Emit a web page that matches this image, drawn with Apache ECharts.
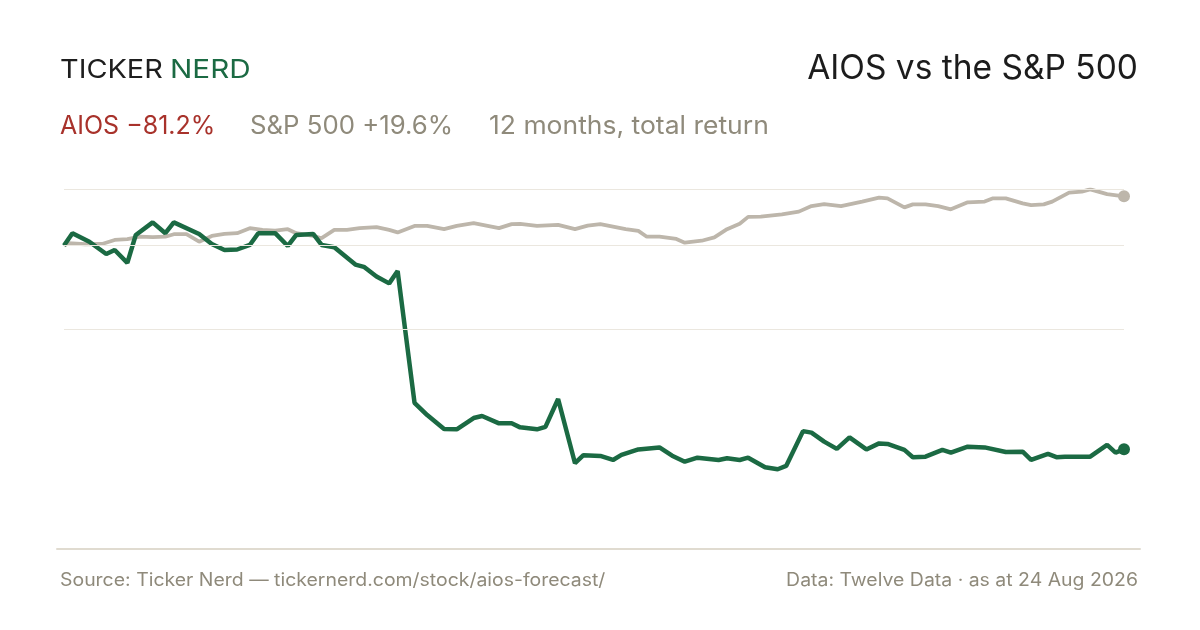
<!DOCTYPE html>
<html><head><meta charset="utf-8">
<script src="https://cdn.jsdelivr.net/npm/echarts@6/dist/echarts.min.js"></script>
<style>html,body{margin:0;padding:0;background:#fff;}#c{width:1200px;height:630px;}</style>
</head><body><div id="c"></div>
<script>
// trading-day index (0..251) and indexed total return (start = 100)
const aiosDays = [0,2,6,10,12,15,17,21,24,26,32,35,38,41,44,46,50,53,55,59,61,64,69,71,74,77,79,83,86,90,93,97,99,103,106,108,112,114,117,121,123,127,130,132,136,141,144,147,150,155,157,160,162,166,169,171,175,177,180,183,186,190,193,195,199,201,204,208,210,214,218,223,227,229,233,235,237,243,247,249,251];
const aiosValues = [100,104.9,101.5,96.6,98.2,93.1,104.2,109.2,104.9,109.2,104.6,100.6,98.2,98.4,100.2,104.9,104.9,99.8,104.2,104.6,100.2,99.3,92.4,91.5,87.6,84.9,89.8,37.3,32.4,26.8,26.7,31.2,32.0,29.1,29.1,27.5,26.7,27.7,38.8,13.2,16.4,16.1,14.5,16.5,18.7,19.5,16.2,13.8,15.4,14.5,15.2,14.5,15.4,11.6,10.8,12.1,26.0,25.4,21.8,18.9,23.5,18.7,21.1,20.9,18.5,15.6,15.8,18.5,17.4,19.8,19.5,17.7,17.8,14.5,16.9,15.6,15.8,15.8,20.5,17.4,18.8];
const spxDays = [0,1,5,9,12,15,18,21,24,26,29,32,35,38,41,44,47,50,53,55,59,61,64,67,70,74,77,79,83,86,90,93,97,100,103,106,108,112,117,121,124,127,130,133,136,138,141,145,147,151,154,157,160,162,165,170,174,177,180,184,189,193,195,199,201,204,207,210,214,218,220,223,227,229,232,234,238,241,243,247,251];
const spxValues = [100,100.9,100.5,100.6,102.2,102.5,103.5,103.3,103.5,104.5,104.5,101.5,103.8,104.6,104.9,106.9,106.2,105.9,106.5,104.9,103.8,102.9,106.2,106.2,106.9,107.3,106.2,105.2,107.8,107.8,106.5,107.8,108.9,107.9,106.9,108.5,108.6,107.8,108.2,106.5,107.9,108.5,107.5,106.5,105.8,103.5,103.5,102.6,101.1,101.9,103.2,106.5,108.7,111.4,111.5,112.4,113.5,115.7,116.5,115.7,117.5,119.1,118.8,115.2,116.4,116.4,115.7,114.4,117.2,117.5,118.8,118.8,116.8,116.1,116.4,117.5,121.1,121.5,122.4,120.5,119.6];
const gridValues = [122.4, 100, 66.7];
const title = 'AIOS vs the S&P 500';
const aiosLabel = 'AIOS \u221281.2%';
const spxLabel = 'S&P 500 +19.6%';
const periodLabel = '12 months, total return';
const sourceText = 'Source: Ticker Nerd \u2014 tickernerd.com/stock/aios-forecast/';
const dataText = 'Data: Twelve Data \u00b7 as at 24 Aug 2026';

const pair = (d, v) => d.map((x, i) => [x, v[i]]);
const aiosData = pair(aiosDays, aiosValues);
const spxData = pair(spxDays, spxValues);
const FONT = 'Inter, "Noto Sans", sans-serif';
const GREEN = '#1b6a43', SPX = '#bdb6ab', RED = '#a8322b', GRAY = '#8f8a7b';

const chart = echarts.init(document.getElementById('c'), null, {renderer: 'canvas'});
chart.setOption({
  animation: false,
  backgroundColor: '#fff',
  grid: [
    {left: 64, right: 76, top: 189.3, bottom: 81},
    {left: 57, right: 60, top: 540, bottom: 81}
  ],
  xAxis: [
    {type: 'value', gridIndex: 0, min: 0, max: 251, show: false},
    {type: 'value', gridIndex: 1, min: 0, max: 1, axisLine: {show: true, lineStyle: {color: '#e0dbd0', width: 2}}, axisTick: {show: false}, axisLabel: {show: false}, splitLine: {show: false}}
  ],
  yAxis: [
    {type: 'value', gridIndex: 0, min: -21, max: 122.4, show: false},
    {type: 'value', gridIndex: 1, min: 0, max: 1, show: false}
  ],
  graphic: [
    {type: 'text', x: 60, y: 57, scaleX: 1.11, style: {text: 'TICKER', font: '400 26px ' + FONT, fill: '#1e1e1e'}},
    {type: 'text', x: 170, y: 57, scaleX: 1.14, style: {text: 'NERD', font: '400 26px ' + FONT, fill: GREEN}},
    {type: 'text', right: 62, top: 52, style: {text: title, font: '400 33.5px ' + FONT, fill: '#1c1c1c'}},
    {type: 'text', x: 60, y: 114, style: {text: aiosLabel, font: '400 25px ' + FONT, fill: RED}},
    {type: 'text', x: 250, y: 114, scaleX: 1.03, style: {text: spxLabel, font: '400 25px ' + FONT, fill: GRAY}},
    {type: 'text', x: 489, y: 114, scaleX: 1.06, style: {text: periodLabel, font: '400 25px ' + FONT, fill: GRAY}},
    {type: 'text', x: 60, y: 572, scaleX: 1.08, style: {text: sourceText, font: '400 18px ' + FONT, fill: GRAY}},
    {type: 'text', x: 1138, y: 572, scaleX: 1.08, style: {text: dataText, align: 'right', font: '400 18px ' + FONT, fill: GRAY}}
  ],
  series: [
    {type: 'line', data: [[0, 100]], symbol: 'none', lineStyle: {opacity: 0}, z: 1, silent: true,
      markLine: {silent: true, symbol: 'none', label: {show: false}, lineStyle: {color: '#ebe7df', width: 1.2, type: 'solid'},
        data: gridValues.map(v => ({yAxis: v}))}},
    {type: 'line', name: 'S&P 500', data: spxData, symbol: 'none', lineStyle: {color: SPX, width: 3.8}, z: 2},
    {type: 'line', name: 'AIOS', data: aiosData, symbol: 'none', lineStyle: {color: GREEN, width: 4.5}, z: 3},
    {type: 'scatter', data: [spxData[spxData.length - 1]], symbolSize: 12, itemStyle: {color: SPX, opacity: 1}, z: 4},
    {type: 'scatter', data: [aiosData[aiosData.length - 1]], symbolSize: 12, itemStyle: {color: GREEN, opacity: 1}, z: 5}
  ]
});
</script></body></html>
